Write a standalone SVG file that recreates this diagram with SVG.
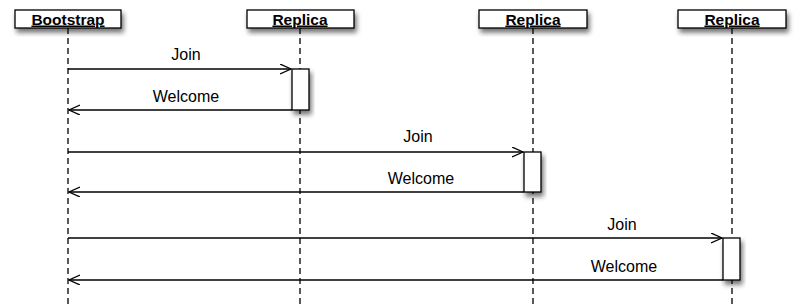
<svg xmlns="http://www.w3.org/2000/svg" width="800" height="308" viewBox="0 0 800 308">
<style>
.box{fill:#fff;stroke:#000;stroke-width:1.3;filter:url(#sh)}
.hdr{font-family:"Liberation Sans",Arial,sans-serif;font-weight:bold;font-size:15.5px;text-anchor:middle;text-decoration:underline}
.lbl{font-family:"Liberation Sans",Arial,sans-serif;font-size:16px;text-anchor:middle}
.life{stroke:#000;stroke-width:1.3;stroke-dasharray:6,4;fill:none}
.msg{stroke:#000;stroke-width:1.3;fill:none}
.act{fill:#fff;stroke:#000;stroke-width:1.3;filter:url(#sh)}
</style>
<defs>
<filter id="sh" x="-30%" y="-30%" width="160%" height="180%">
<feDropShadow dx="2" dy="4" stdDeviation="2.5" flood-color="#000" flood-opacity="0.55"/>
</filter>
<marker id="open" markerWidth="12" markerHeight="12" refX="11" refY="5" orient="auto" markerUnits="userSpaceOnUse">
<path d="M0,0 L11,5 L0,10" fill="none" stroke="#000" stroke-width="1.3"/>
</marker>
</defs>
<g id="lifelines">
<line class="life" x1="68" y1="28" x2="68" y2="308"/>
<line class="life" x1="300" y1="28" x2="300" y2="308"/>
<line class="life" x1="533" y1="28" x2="533" y2="308"/>
<line class="life" x1="732" y1="28" x2="732" y2="308"/>
</g>
<g id="bootstrap"><rect class="box" x="15" y="10" width="106" height="18"/><text class="hdr" x="68" y="24.5">Bootstrap</text></g>
<g id="replica1"><rect class="box" x="247" y="10" width="107" height="18"/><text class="hdr" x="300" y="24.5">Replica</text></g>
<g id="replica2"><rect class="box" x="479" y="10" width="108" height="18"/><text class="hdr" x="533" y="24.5">Replica</text></g>
<g id="replica3"><rect class="box" x="678" y="10" width="108" height="18"/><text class="hdr" x="732" y="24.5">Replica</text></g>
<g id="act1"><rect class="act" x="292" y="69" width="17" height="41"/></g>
<g id="act2"><rect class="act" x="524" y="152" width="17" height="40"/></g>
<g id="act3"><rect class="act" x="723" y="238" width="17" height="42"/></g>
<g id="connectors">
<line class="msg" x1="68" y1="69" x2="291" y2="69" marker-end="url(#open)"/>
<line class="msg" x1="292" y1="110" x2="69" y2="110" marker-end="url(#open)"/>
<line class="msg" x1="68" y1="152" x2="523" y2="152" marker-end="url(#open)"/>
<line class="msg" x1="524" y1="192" x2="69" y2="192" marker-end="url(#open)"/>
<line class="msg" x1="68" y1="238" x2="722" y2="238" marker-end="url(#open)"/>
<line class="msg" x1="723" y1="280" x2="69" y2="280" marker-end="url(#open)"/>
</g>
<g id="labels">
<text class="lbl" x="186" y="60">Join</text>
<text class="lbl" x="186" y="102">Welcome</text>
<text class="lbl" x="418" y="142">Join</text>
<text class="lbl" x="421" y="184">Welcome</text>
<text class="lbl" x="622" y="230">Join</text>
<text class="lbl" x="624" y="272">Welcome</text>
</g>
</svg>
